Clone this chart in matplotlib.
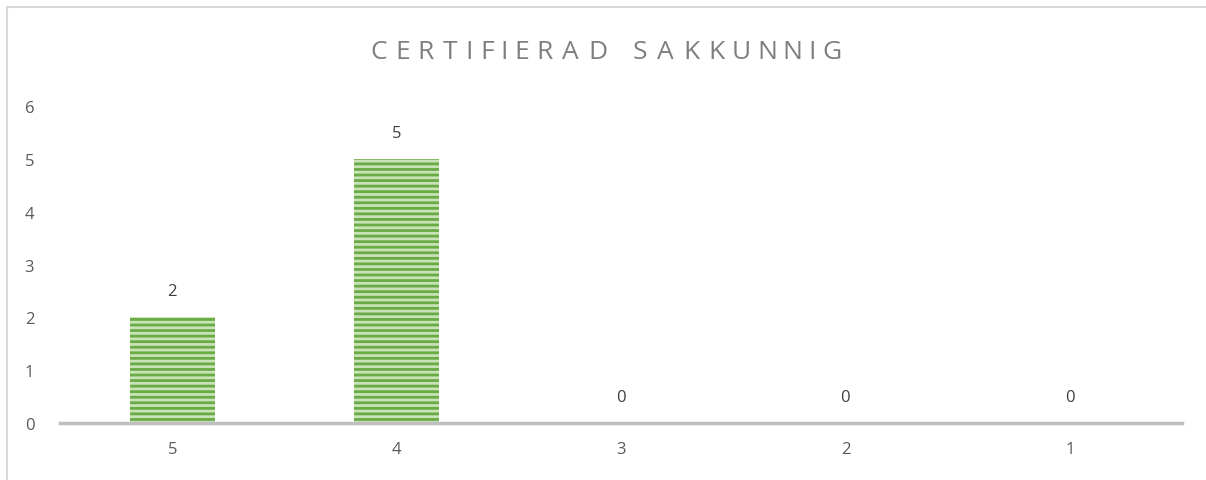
import matplotlib
matplotlib.use("Agg")
import matplotlib.pyplot as plt
from matplotlib.lines import Line2D
from matplotlib.textpath import TextPath
from matplotlib.font_manager import FontProperties

categories = ["5", "4", "3", "2", "1"]
values = [2, 5, 0, 0, 0]
title = "CERTIFIERAD SAKKUNNIG"

W, H = 1206, 481
plt.rcParams['font.family'] = ['Open Sans', 'DejaVu Sans']
plt.rcParams['hatch.linewidth'] = 2.0
plt.rcParams['hatch.color'] = '#6aab45'
fig = plt.figure(figsize=(W / 100, H / 100), dpi=100)

ax = fig.add_axes([60 / W, (H - 424) / H, (1182 - 60) / W, (424 - 107) / H])
x = list(range(len(categories)))
bars = ax.bar(x, values, width=0.38, color='#c9e3b8', edgecolor='#6aab45',
              linewidth=0, hatch='---')
ax.set_xlim(-0.5, len(categories) - 0.5)
ax.set_ylim(0, 6)
ax.set_yticks(range(0, 7))
ax.set_xticks(x)
ax.set_xticklabels(categories)
for s in ['top', 'right', 'left']:
    ax.spines[s].set_visible(False)
ax.spines['bottom'].set_color('#bfbfbf')
ax.spines['bottom'].set_linewidth(2.5)
ax.tick_params(axis='both', length=0, labelsize=12, colors='#595959')
ax.tick_params(axis='y', pad=22)
ax.tick_params(axis='x', pad=13)
for lab in ax.get_yticklabels():
    lab.set_horizontalalignment('center')
for xi, v in zip(x, values):
    ax.annotate(str(v), (xi, v), xytext=(0, 26), textcoords='offset pixels',
                ha='center', va='center', fontsize=12, color='#404040')

# letter-spaced title, laid out character by character
tsize = 19
fp = FontProperties(family='Open Sans', size=tsize)
px_per_pt = 100 / 72
widths = []
for ch in title:
    if ch == ' ':
        w = TextPath((0, 0), 'a a', prop=fp).get_extents().width - \
            TextPath((0, 0), 'aa', prop=fp).get_extents().width
    else:
        w = TextPath((0, 0), ch, prop=fp).get_extents().width
    widths.append(w * px_per_pt)
target = 468.0
spacing = (target - sum(widths)) / (len(title) - 1)
cx = 372.0
for ch, w in zip(title, widths):
    if ch != ' ':
        fig.text((cx + w / 2) / W, (H - 53) / H, ch, ha='center', va='center',
                 color='#7f7f7f', fontproperties=fp)
    cx += w + spacing

# partial frame
fig.add_artist(Line2D([6.5 / W, 1], [(H - 7.5) / H] * 2, color='#d9d9d9', lw=1.5,
                      transform=fig.transFigure))
fig.add_artist(Line2D([6.5 / W] * 2, [0, (H - 7.5) / H], color='#d9d9d9', lw=1.5,
                      transform=fig.transFigure))

fig.savefig("out.png", dpi=100)
